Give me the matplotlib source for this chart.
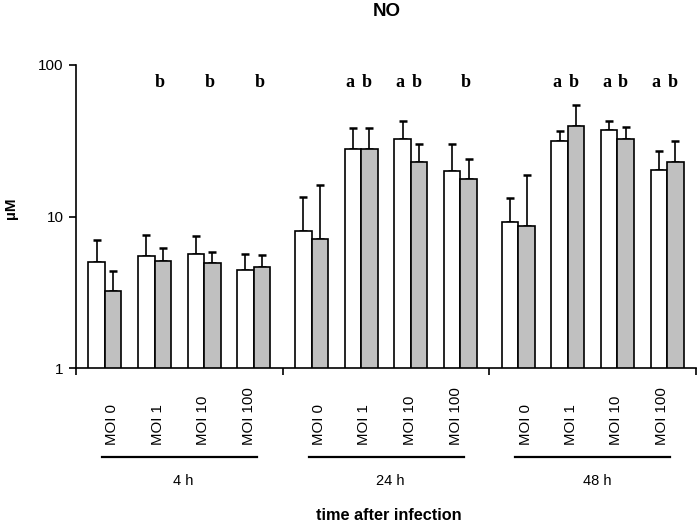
import matplotlib
matplotlib.use("Agg")
import matplotlib.pyplot as plt
import matplotlib.transforms as mtransforms
import numpy as np

# ---- data ----
groups = ["4 h", "24 h", "48 h"]
moi_labels = ["MOI 0", "MOI 1", "MOI 10", "MOI 100"]
white_vals = [5.0, 5.54, 5.69, 4.44, 8.04, 28.1, 32.4, 20.1, 9.27, 31.5, 37.3, 20.4]
white_err = [2.05, 1.98, 1.79, 1.27, 5.4, 10.3, 10.6, 10.2, 4.1, 5.4, 5.5, 6.8]
gray_vals = [3.24, 5.11, 4.93, 4.64, 7.15, 27.8, 23.1, 17.6, 8.62, 39.4, 32.7, 22.9]
gray_err = [1.15, 1.12, 0.93, 0.93, 9.0, 10.6, 6.9, 6.3, 10.1, 15.2, 6.3, 8.8]
letters_white = ["", "", "", "", "", "a", "a", "", "", "a", "a", "a"]
letters_gray = ["", "b", "b", "b", "", "b", "b", "b", "", "b", "b", "b"]
y_ticks = [1, 10, 100]
y_ticklabels = ["1", "10", "100"]
title = "NO"
ylabel = "µM"
xlabel = "time after infection"

SANS = ["Liberation Sans", "DejaVu Sans"]
SERIF = ["Liberation Serif", "DejaVu Serif"]
plt.rcParams["font.family"] = SANS

fig = plt.figure(figsize=(7.0, 5.24), dpi=100)
ax = fig.add_axes([76 / 700, 1 - 368.3 / 524, 620 / 700, (368.3 - 65) / 524])

n_per = len(moi_labels)
centers = []
for g in range(len(groups)):
    for j in range(n_per):
        centers.append(g * 4 + 0.56 + 0.96 * j)
centers = np.array(centers)
bw = 0.32
xw = centers - bw / 2
xg = centers + bw / 2

ax.bar(xw, white_vals, width=bw, color="white", edgecolor="black", linewidth=1.2, zorder=2)
ax.bar(xg, gray_vals, width=bw, color="#C0C0C0", edgecolor="black", linewidth=1.2, zorder=2)
ax.errorbar(xw, white_vals, yerr=[np.zeros(len(white_vals)), white_err], fmt="none",
            ecolor="black", elinewidth=1.2, capsize=2.8, capthick=1.8, zorder=1)
ax.errorbar(xg, gray_vals, yerr=[np.zeros(len(gray_vals)), gray_err], fmt="none",
            ecolor="black", elinewidth=1.2, capsize=2.8, capthick=1.8, zorder=1)

ax.set_yscale("log")
ax.set_ylim(1, 100)
ax.set_xlim(0, 12)
ax.set_yticks(y_ticks)
ax.set_yticklabels(y_ticklabels, fontsize=11)
ax.yaxis.set_minor_locator(matplotlib.ticker.NullLocator())
ax.set_xticks([0, 4, 8, 12])
ax.set_xticklabels([])
ax.tick_params(axis="both", direction="out", length=5, width=1.2, color="black", pad=4)
for s in ["top", "right"]:
    ax.spines[s].set_visible(False)
for s in ["left", "bottom"]:
    ax.spines[s].set_linewidth(1.2)

# significance letters
tr_ax = mtransforms.blended_transform_factory(ax.transData, ax.transAxes)
for i in range(len(centers)):
    if letters_white[i]:
        ax.text(xw[i] - 0.05, 0.927, letters_white[i], transform=tr_ax, ha="center", va="baseline",
                fontsize=13, fontweight="bold", family=SERIF)
    if letters_gray[i]:
        ax.text(xg[i] - 0.05, 0.927, letters_gray[i], transform=tr_ax, ha="center", va="baseline",
                fontsize=13, fontweight="bold", family=SERIF)

# category labels below axis
tr_fig = mtransforms.blended_transform_factory(ax.transData, fig.transFigure)
label_offsets = [0.70, 1.58, 2.46, 3.35]
for g, gname in enumerate(groups):
    for j, lab in enumerate(moi_labels):
        ax.text(g * 4 + label_offsets[j], 1 - 445 / 524, lab, transform=tr_fig, rotation=90,
                ha="center", va="bottom", fontsize=10.8, clip_on=False)
    ax.plot([g * 4 + 0.5, g * 4 + 3.5], [1 - 456.7 / 524] * 2, transform=tr_fig, color="black",
            linewidth=1.6, clip_on=False)
    ax.text(g * 4 + 2.08, 1 - 481 / 524, gname, transform=tr_fig, ha="center", va="center",
            fontsize=10.5, clip_on=False)

fig.text(389 / 700, 1 - 515 / 524, xlabel, ha="center", va="center",
         fontsize=11.7, fontweight="bold")
fig.text(387 / 700, 1 - 11 / 524, title, ha="center", va="center",
         fontsize=13.5, fontweight="bold")
fig.text(11 / 700, 1 - 208 / 524, ylabel, ha="center", va="center", rotation=90,
         fontsize=11, fontweight="bold")

fig.savefig("out.png", dpi=100)
